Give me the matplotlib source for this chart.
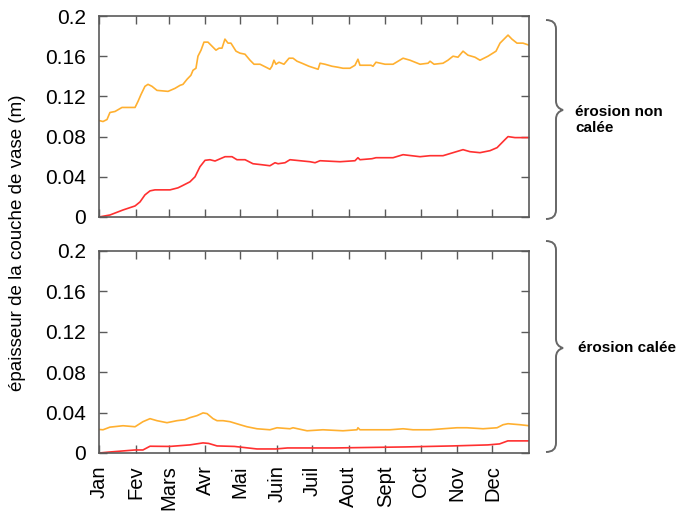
import matplotlib
matplotlib.use("Agg")
import matplotlib.pyplot as plt
from matplotlib.path import Path
from matplotlib.patches import PathPatch

plt.rcParams['font.family'] = ['Liberation Sans', 'DejaVu Sans']

# ---- data (day of year, thickness in m) ----
month_days = [0, 31, 59, 90, 120, 151, 181, 212, 243, 273, 304, 334]
month_labels = ['Jan', 'Fev', 'Mars', 'Avr', 'Mai', 'Juin', 'Juil', 'Aout', 'Sept', 'Oct', 'Nov', 'Dec']
y_ticks = [0, 0.04, 0.08, 0.12, 0.16, 0.2]
y_ticklabels = ['0', '0.04', '0.08', '0.12', '0.16', '0.2']

top_orange_x = [0, 3.4, 6.8, 9.3, 13.6, 19.5, 30.6, 33.1, 35.7, 39, 41.6, 45, 49.2, 58.6, 64.5, 68.8,
                71.3, 74.7, 78, 79.8, 82.3, 84, 86.6, 89.1, 92.5, 95.9, 99.3, 101.9, 104.4, 106.9,
                109.5, 112, 116.3, 119.7, 123.9, 128.2, 131.6, 136.7, 141.8, 145.1, 146.8, 148.5,
                150.2, 152.8, 157, 161.3, 164.7, 168.1, 172.3, 178.2, 183.4, 186, 187.6, 191.8,
                197.8, 202.9, 207.1, 213, 217.3, 219.8, 221.5, 226.6, 230.9, 232.6, 235.1, 242.8,
                249.6, 258.1, 264, 272.5, 279.3, 281, 284.4, 292, 296.2, 300.5, 304.7, 309, 313.2,
                319.1, 323.4, 330.2, 337, 340.4, 343.8, 347.2, 350.5, 354.8, 359.9, 365]
top_orange_y = [0.096, 0.095, 0.097, 0.104, 0.105, 0.109, 0.109, 0.115, 0.122, 0.130, 0.132, 0.130,
                0.126, 0.125, 0.128, 0.131, 0.132, 0.137, 0.141, 0.146, 0.148, 0.160, 0.166, 0.174,
                0.174, 0.170, 0.166, 0.168, 0.168, 0.177, 0.173, 0.173, 0.165, 0.163, 0.162, 0.156,
                0.152, 0.152, 0.149, 0.147, 0.150, 0.156, 0.152, 0.154, 0.152, 0.158, 0.158, 0.155,
                0.153, 0.150, 0.148, 0.147, 0.153, 0.152, 0.150, 0.149, 0.148, 0.148, 0.151, 0.157,
                0.151, 0.151, 0.151, 0.150, 0.154, 0.152, 0.152, 0.158, 0.156, 0.152, 0.153, 0.155,
                0.152, 0.153, 0.156, 0.160, 0.159, 0.165, 0.161, 0.159, 0.156, 0.160, 0.165, 0.173,
                0.177, 0.181, 0.177, 0.173, 0.173, 0.171]

top_red_x = [0, 9.3, 20.4, 30.6, 34.8, 39, 43.3, 47.5, 60.3, 67, 70.5, 77.2, 81.5, 85.7, 90, 94.2,
             98.5, 103, 107, 112.9, 117.1, 124, 130.7, 138.3, 145.1, 149.4, 152, 157.9, 162.1,
             170.6, 179.1, 183.4, 187.6, 204.6, 217.3, 219.8, 221.5, 231.7, 235.1, 249.6, 258.1,
             272.5, 281, 292, 300.5, 309, 314.9, 323.4, 331.9, 337.9, 340.4, 344.6, 347.2, 353.1, 365]
top_red_y = [0.0, 0.002, 0.007, 0.011, 0.015, 0.022, 0.026, 0.027, 0.027, 0.029, 0.031, 0.035,
             0.040, 0.050, 0.0564, 0.057, 0.0557, 0.058, 0.060, 0.060, 0.057, 0.057, 0.053, 0.052,
             0.051, 0.054, 0.053, 0.054, 0.057, 0.056, 0.055, 0.054, 0.056, 0.055, 0.056, 0.059,
             0.057, 0.058, 0.059, 0.059, 0.062, 0.060, 0.061, 0.061, 0.064, 0.067, 0.065, 0.064,
             0.066, 0.069, 0.072, 0.077, 0.080, 0.079, 0.079]

bot_orange_x = [0, 3.4, 9.3, 20.4, 30.6, 37.3, 43.3, 49.2, 57.7, 66.2, 73, 77.2, 83.2, 88.3, 91.7,
                96.8, 100.2, 105.3, 111.2, 119.7, 125.6, 134.1, 145.1, 151.1, 162.1, 164.7, 176.6,
                190.1, 207.1, 219, 219.8, 221.5, 247, 258.1, 266.5, 281, 292, 303.9, 312.4, 326,
                337.9, 343, 347.2, 357.4, 365]
bot_orange_y = [0.0233, 0.023, 0.0256, 0.027, 0.026, 0.031, 0.034, 0.032, 0.030, 0.032, 0.033,
                0.035, 0.037, 0.0397, 0.039, 0.034, 0.032, 0.032, 0.031, 0.028, 0.026, 0.024, 0.023,
                0.025, 0.024, 0.025, 0.022, 0.023, 0.022, 0.023, 0.025, 0.023, 0.023, 0.024, 0.023,
                0.023, 0.024, 0.025, 0.025, 0.024, 0.025, 0.028, 0.029, 0.028, 0.027]

bot_red_x = [0, 9.3, 30.6, 37.3, 43.3, 60, 77, 88.3, 93, 100.2, 115, 134.1, 150, 160, 200, 260,
             300, 330, 340, 347, 365]
bot_red_y = [0.0, 0.001, 0.003, 0.003, 0.0067, 0.0065, 0.008, 0.010, 0.0095, 0.007, 0.0065,
             0.004, 0.004, 0.005, 0.005, 0.006, 0.007, 0.008, 0.009, 0.012, 0.012]

ORANGE = '#ffb030'
RED = '#ff3030'
SPINE = '#5a5a5a'

W, H = 676, 512
fig = plt.figure(figsize=(W / 100, H / 100), dpi=100)


def ax_rect(x0, y0, x1, y1):
    return [x0 / W, 1 - y1 / H, (x1 - x0) / W, (y1 - y0) / H]


ax1 = fig.add_axes(ax_rect(99, 16, 529, 217))
ax2 = fig.add_axes(ax_rect(99, 251, 529, 453))

for ax in (ax1, ax2):
    ax.set_xlim(0, 365)
    ax.set_ylim(0, 0.2)
    ax.set_yticks(y_ticks)
    ax.set_yticklabels(y_ticklabels)
    ax.set_xticks(month_days)
    ax.tick_params(direction='in', length=6, width=1, color=SPINE, labelsize=15,
                   top=True, right=True)
    ax.tick_params(axis='y', pad=9.5)
    for s in ax.spines.values():
        s.set_color(SPINE)
        s.set_linewidth(1.2)

ax1.plot(top_orange_x, top_orange_y, color=ORANGE, lw=1.2)
ax1.plot(top_red_x, top_red_y, color=RED, lw=1.2)
ax1.set_xticklabels([])

ax2.plot(bot_orange_x, bot_orange_y, color=ORANGE, lw=1.2)
ax2.plot(bot_red_x, bot_red_y, color=RED, lw=1.2)
ax2.set_xticklabels(month_labels, rotation=90, va='top', ha='center')
ax2.tick_params(axis='x', pad=9, labelsize=14.5)

fig.text(18 / W, 1 - 243 / H, 'épaisseur de la couche de vase (m)', rotation=90,
         ha='center', va='center', fontsize=13.5)


def brace(y_top, y_tip, y_bot, x_left=546, x_mid=556, x_tip=563):
    r = 9
    verts = [
        (x_left, y_top), (x_mid, y_top), (x_mid, y_top + r),
        (x_mid, y_tip - r),
        (x_mid, y_tip - 2), (x_tip, y_tip),
        (x_mid, y_tip + 2), (x_mid, y_tip + r),
        (x_mid, y_bot - r),
        (x_mid, y_bot), (x_left, y_bot),
    ]
    codes = [Path.MOVETO, Path.CURVE3, Path.CURVE3, Path.LINETO,
             Path.CURVE3, Path.CURVE3, Path.CURVE3, Path.CURVE3,
             Path.LINETO, Path.CURVE3, Path.CURVE3]
    verts = [(x / W, 1 - y / H) for x, y in verts]
    p = PathPatch(Path(verts, codes), transform=fig.transFigure, fill=False,
                  edgecolor='#666666', lw=1.4)
    fig.add_artist(p)


brace(20, 110, 219)
brace(241, 348, 452)

fig.text(575 / W, 1 - 120 / H, 'érosion non\ncalée', ha='left', va='center',
         fontsize=11, fontweight='bold', linespacing=1.1)
fig.text(578 / W, 1 - 348 / H, 'érosion calée', ha='left', va='center',
         fontsize=11, fontweight='bold')

fig.savefig('out.png', dpi=100)
